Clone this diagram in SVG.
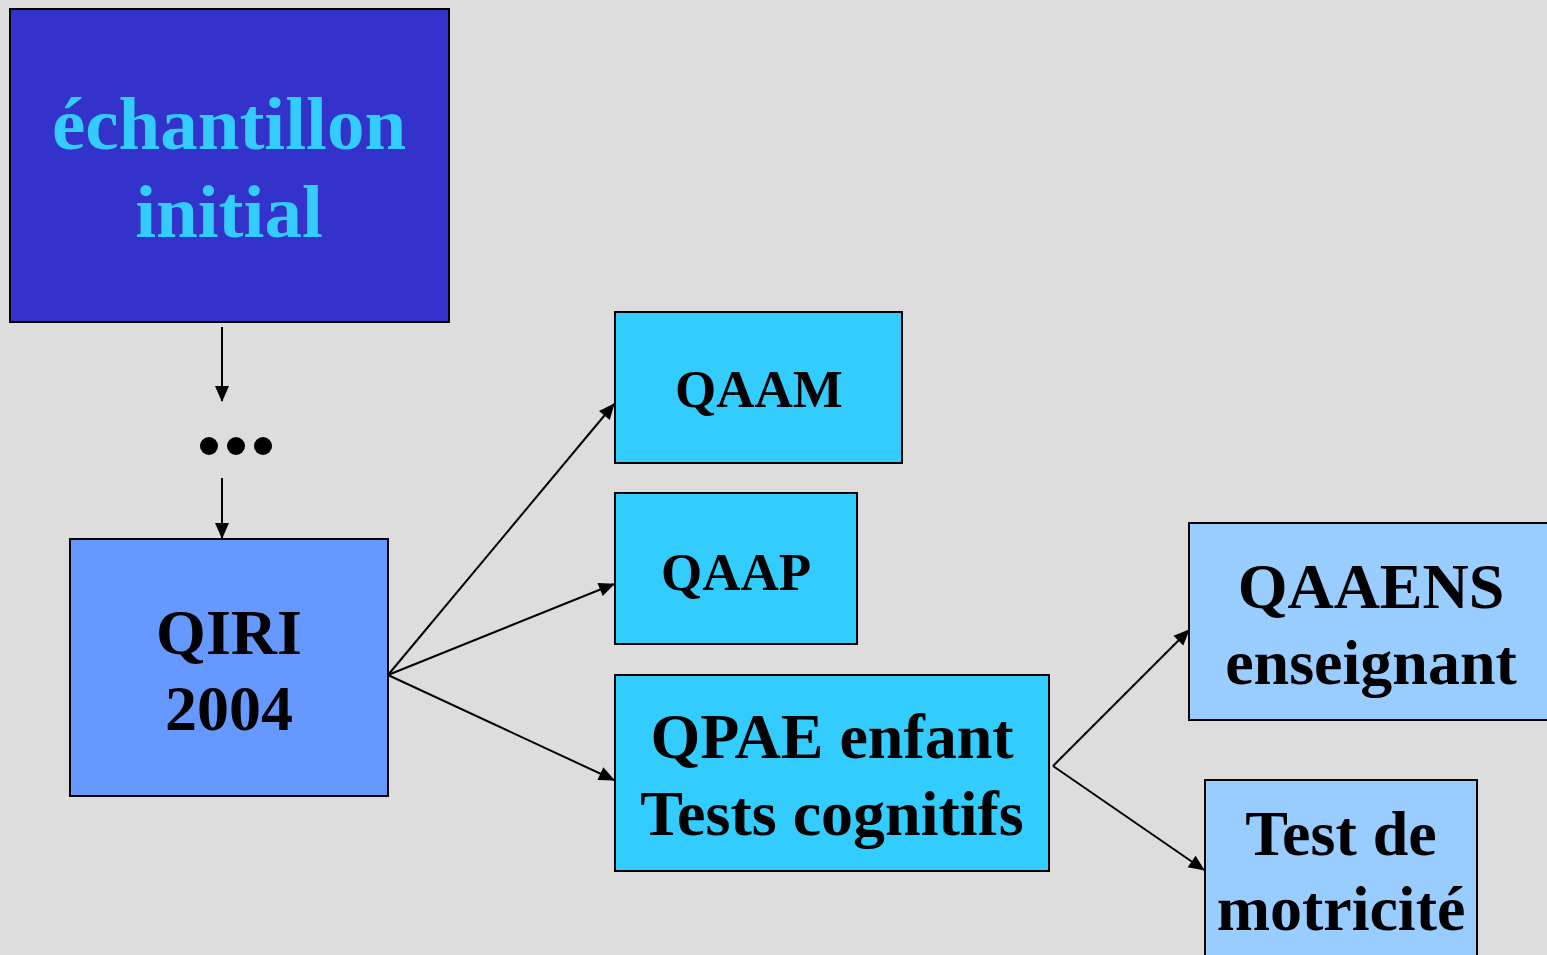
<svg xmlns="http://www.w3.org/2000/svg" width="1547" height="955" viewBox="0 0 1547 955">
<style>
.box{stroke:#000;stroke-width:2}
.t{font-family:"Liberation Serif","Times New Roman",serif;font-weight:bold;text-anchor:middle;fill:#000}
.c{stroke:#000;stroke-width:2;fill:none;marker-end:url(#ah)}
</style>
<defs>
<marker id="ah" viewBox="0 0 16 14" refX="15" refY="7" markerWidth="16" markerHeight="14" markerUnits="userSpaceOnUse" orient="auto" overflow="visible">
<path d="M0,0 L16,7 L0,14 Z" fill="#000"/>
</marker>
</defs>
<rect width="1547" height="955" fill="#DDDDDD"/>
<g id="connectors">
<line class="c" x1="222" y1="327" x2="222" y2="401"/>
<line class="c" x1="222" y1="478" x2="222" y2="538"/>
<line class="c" x1="388" y1="675" x2="614" y2="404"/>
<line class="c" x1="388" y1="675" x2="614" y2="584"/>
<line class="c" x1="388" y1="675" x2="614" y2="780"/>
<line class="c" x1="1053" y1="766" x2="1189" y2="630"/>
<line class="c" x1="1053" y1="766" x2="1204" y2="870"/>
</g>
<g id="node-echantillon">
<rect class="box" x="10" y="9" width="439" height="313" fill="#3333CC"/>
<text class="t" x="229" y="149" font-size="75" style="fill:#33CCFF">échantillon</text>
<text class="t" x="229" y="237" font-size="75" style="fill:#33CCFF">initial</text>
</g>
<g id="node-dots">
<circle cx="209" cy="446" r="9"/>
<circle cx="236" cy="446" r="9"/>
<circle cx="263" cy="446" r="9"/>
</g>
<g id="node-qiri">
<rect class="box" x="70" y="539" width="318" height="257" fill="#6699FF"/>
<text class="t" x="229" y="654" font-size="64">QIRI</text>
<text class="t" x="229" y="730" font-size="64">2004</text>
</g>
<g id="node-qaam">
<rect class="box" x="615" y="312" width="287" height="151" fill="#33CCFF"/>
<text class="t" x="759" y="407" font-size="53">QAAM</text>
</g>
<g id="node-qaap">
<rect class="box" x="615" y="493" width="242" height="151" fill="#33CCFF"/>
<text class="t" x="736" y="590" font-size="53">QAAP</text>
</g>
<g id="node-qpae">
<rect class="box" x="615" y="675" width="434" height="196" fill="#33CCFF"/>
<text class="t" x="832" y="758" font-size="64">QPAE enfant</text>
<text class="t" x="832" y="835" font-size="64">Tests cognitifs</text>
</g>
<g id="node-qaaens">
<rect class="box" x="1189" y="523" width="370" height="197" fill="#99CCFF"/>
<text class="t" x="1371" y="608" font-size="64">QAAENS</text>
<text class="t" x="1371" y="684" font-size="64">enseignant</text>
</g>
<g id="node-motricite">
<rect class="box" x="1205" y="780" width="272" height="190" fill="#99CCFF"/>
<text class="t" x="1341" y="855" font-size="64">Test de</text>
<text class="t" x="1341" y="930" font-size="64">motricité</text>
</g>
</svg>
